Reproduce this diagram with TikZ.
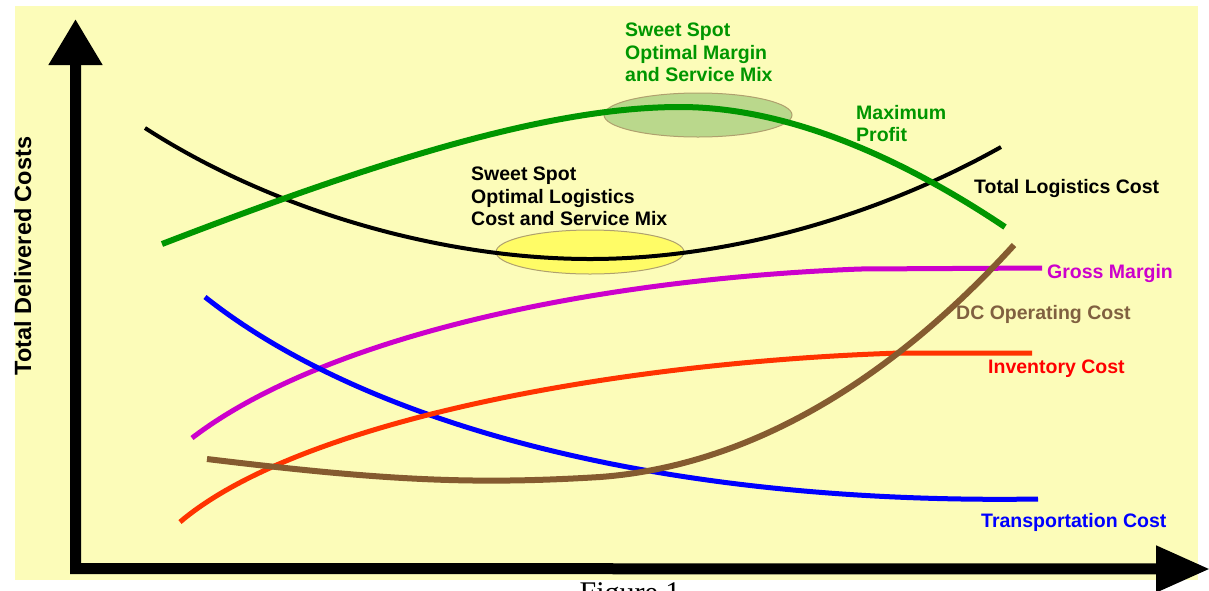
\documentclass[tikz,border=0pt]{standalone}
\usepackage{fontspec}
\setsansfont{Liberation Sans}
\setmainfont{Liberation Serif}
\usetikzlibrary{arrows.meta,shapes.geometric}
\definecolor{bgy}{RGB}{252,252,185}
\definecolor{cgreen}{RGB}{0,150,0}
\definecolor{cmag}{RGB}{204,0,204}
\definecolor{cblue}{RGB}{0,0,255}
\definecolor{cred}{RGB}{255,51,0}
\definecolor{cbrown}{RGB}{133,91,48}
\definecolor{tbrown}{RGB}{128,96,64}
\definecolor{tred}{RGB}{255,0,0}
\definecolor{ellg}{RGB}{186,216,140}
\definecolor{elly}{RGB}{255,252,102}
\definecolor{ellb}{RGB}{175,160,110}
\begin{document}
\begin{tikzpicture}[x=1pt,y=-1pt,
  lbl/.style={font=\sffamily\bfseries\fontsize{19.5}{22.5}\selectfont, inner sep=0pt, align=left},
  curve/.style={line cap=butt, line join=round},
  spot/.style={ellipse, draw=ellb, line width=1pt, minimum width=188pt, minimum height=44pt, inner sep=0pt},
  axis/.style={line width=11pt, line join=miter}
]
\useasboundingbox (0,0) rectangle (1209,590);
\fill[bgy] (15,6) rectangle (1198,580);

% sweet spot ellipses
\node[spot, fill=ellg] (spotG) at (698,115) {};
\node[spot, fill=elly] (spotY) at (590,252) {};

% axes
\coordinate (ytip) at (75.5,19);
\coordinate (corner) at (75.5,568.5);
\coordinate (xtip) at (1210,569);
\draw[axis, {Triangle[length=46pt,width=51pt]}-{Triangle[length=54pt,width=44pt]}] (ytip) -- (corner) -- (xtip);

% curves
\draw[curve, black, line width=4pt] (145,128) .. controls (280,215) and (450,259) .. (590,259) .. controls (730,259) and (880,215) .. (1001,147);
\draw[curve, cgreen, line width=6pt] (162,244) .. controls (380,160) and (550,107) .. (680,107) .. controls (800,107) and (920,170) .. (1005,227);
\draw[curve, cmag, line width=5pt] (192,438) .. controls (320,340) and (580,280) .. (860,269) -- (1042,268);
\draw[curve, cblue, line width=5pt] (205,297) .. controls (360,420) and (650,505) .. (1038,499);
\draw[curve, cred, line width=5pt] (180,522) .. controls (300,420) and (620,362) .. (900,353) -- (1032,353);
\draw[curve, cbrown, line width=6pt] (207,459) .. controls (380,480) and (470,485) .. (600,477) .. controls (760,465) and (900,370) .. (1014,245);

% labels
\node[lbl, cgreen, anchor=north west] (tG) at (625,23) {Sweet Spot\\Optimal Margin\\and Service Mix};
\node[lbl, cgreen, anchor=north west] (tMax) at (856,105) {Maximum\\Profit};
\node[lbl, black, anchor=north west] (tY) at (471,167) {Sweet Spot\\Optimal Logistics\\Cost and Service Mix};
\node[lbl, black, anchor=base west] (tTL) at (974,193) {Total Logistics Cost};
\node[lbl, cmag, anchor=base west] (tGM) at (1047,278) {Gross Margin};
\node[lbl, tbrown, anchor=base west] (tDC) at (956,319) {DC Operating Cost};
\node[lbl, tred, anchor=base west] (tIC) at (988,373) {Inventory Cost};
\node[lbl, cblue, anchor=base west] (tTC) at (981,527) {Transportation Cost};
\node[font=\sffamily\bfseries\fontsize{23.5}{26}\selectfont, inner sep=0pt, rotate=90, anchor=base] (ylab) at (31,256) {Total Delivered Costs};
\node[font=\rmfamily\fontsize{30}{30}\selectfont, inner sep=0pt, anchor=north] (fig) at (630,582) {Figure 1};
\end{tikzpicture}
\end{document}
